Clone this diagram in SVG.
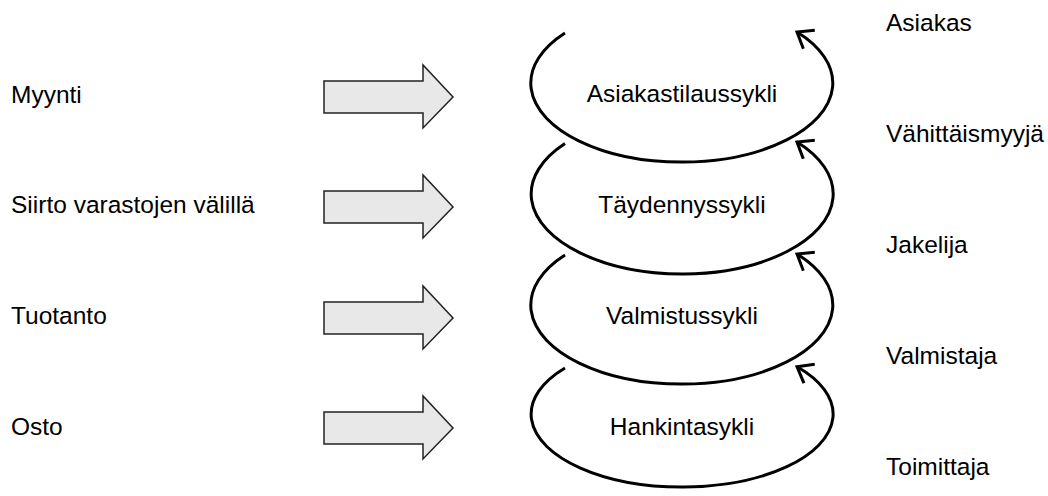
<svg xmlns="http://www.w3.org/2000/svg" width="1048" height="496" viewBox="0 0 1048 496">
<style>
  text { font-family: "Liberation Sans", Arial, sans-serif; font-size: 24.5px; fill: #000; }
  .mid { text-anchor: middle; }
  .cyc { fill: none; stroke: #000; stroke-width: 3; marker-end: url(#chev); }
  .blk { fill: #e8e8e8; stroke: #222; stroke-width: 1.5; stroke-linejoin: miter; }
</style>
<defs>
  <marker id="chev" markerUnits="userSpaceOnUse" viewBox="-20 -15 30 30" refX="0" refY="0" markerWidth="30" markerHeight="30" orient="auto" overflow="visible">
    <path d="M -13 -10 L 0 0 L -13 10" fill="none" stroke="#000" stroke-width="3" stroke-linecap="square"/>
  </marker>
  <path id="blockArrow" class="blk" d="M 0 -16 L 99 -16 L 99 -32 L 129 0 L 99 31 L 99 16 L 0 16 Z"/>
</defs>
<rect width="1048" height="496" fill="#fff"/>

<g id="left-labels">
  <text x="11" y="103">Myynti</text>
  <text x="11" y="213">Siirto varastojen välillä</text>
  <text x="11" y="324">Tuotanto</text>
  <text x="11" y="435">Osto</text>
</g>

<g id="connectors">
  <use href="#blockArrow" x="324" y="97"/>
  <use href="#blockArrow" x="324" y="207"/>
  <use href="#blockArrow" x="324" y="318"/>
  <use href="#blockArrow" x="324" y="428"/>
</g>

<g id="cycle-asiakastilaus">
  <path class="cyc" d="M 565 33 A 151 79 0 1 0 797 32"/>
  <text class="mid" x="682" y="102">Asiakastilaussykli</text>
</g>
<g id="cycle-taydennys">
  <path class="cyc" d="M 565 143.5 A 151 80 0 1 0 797 142"/>
  <text class="mid" x="682" y="213">Täydennyssykli</text>
</g>
<g id="cycle-valmistus">
  <path class="cyc" d="M 565 255 A 151 79 0 1 0 797 254"/>
  <text class="mid" x="682" y="324">Valmistussykli</text>
</g>
<g id="cycle-hankinta">
  <path class="cyc" d="M 565 368 A 151 73 0 1 0 797 366.7"/>
  <text class="mid" x="682" y="435">Hankintasykli</text>
</g>

<g id="right-labels">
  <text x="886" y="31">Asiakas</text>
  <text x="886" y="142">Vähittäismyyjä</text>
  <text x="886" y="253">Jakelija</text>
  <text x="886" y="364">Valmistaja</text>
  <text x="886" y="475">Toimittaja</text>
</g>
</svg>
